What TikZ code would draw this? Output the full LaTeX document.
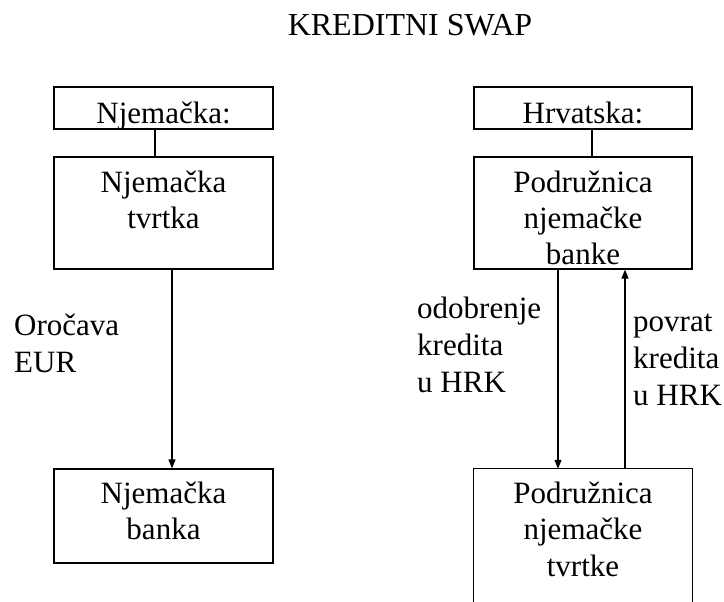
\documentclass[tikz,border=0pt]{standalone}
\usepackage{fontspec}
\setmainfont{Liberation Serif}
\usetikzlibrary{arrows.meta}
\newcommand\mlines[1]{\begin{tabular}[t]{@{}c@{}}#1\end{tabular}}
\newcommand\llines[1]{\begin{tabular}[t]{@{}l@{}}#1\end{tabular}}
\tikzset{
  box/.style={draw=black, line width=1.2pt, inner sep=0pt, minimum width=219pt},
  openbox/.style={draw=none, inner sep=0pt, minimum width=218pt},
  txt/.style={inner sep=0pt, anchor=base, font=\fontsize{31}{36.5}\selectfont},
  ltxt/.style={inner sep=0pt, anchor=base west, font=\fontsize{31}{37}\selectfont},
  conn/.style={line width=1.2pt, draw=black},
  flow/.style={line width=1.2pt, draw=black, -{Triangle[length=9pt,width=7pt]}}
}
\begin{document}
\begin{tikzpicture}[x=1pt,y=-1pt]
\useasboundingbox (0,0) rectangle (724,602);
% title
\node[txt, font=\fontsize{32}{37}\selectfont] (title) at (410,36) {KREDITNI SWAP};
% left column boxes
\node[box, minimum height=42pt] (lb1) at (163.5,108) {};
\node[box, minimum height=112pt] (lb2) at (163.5,213) {};
\node[box, minimum height=94pt] (lb3) at (163.5,516) {};
% right column boxes
\node[box, minimum width=218pt, minimum height=42pt] (rb1) at (583,108) {};
\node[box, minimum width=218pt, minimum height=112pt] (rb2) at (583,213) {};
\node[openbox, minimum height=133pt] (rb3) at (583,535.5) {};
\draw[conn] (rb3.south west) -- (rb3.north west) -- (rb3.north east) -- (rb3.south east);
% texts in boxes
\node[txt] (lt1) at (163.5,124) {Njemačka:};
\node[txt] (rt1) at (583,124) {Hrvatska:};
\node[txt] (lt2) at (163.5,192) {\mlines{Njemačka\\tvrtka}};
\node[txt] (rt2) at (583,192) {\mlines{Podružnica\\njemačke\\banke}};
\node[txt] (lt3) at (163.5,503) {\mlines{Njemačka\\banka}};
\node[txt] (rt3) at (583,503) {\mlines{Podružnica\\njemačke\\tvrtke}};
% side labels
\node[ltxt] (la) at (14,335) {\llines{Oročava\\EUR}};
\node[ltxt] (ra) at (417,318) {\llines{odobrenje\\kredita\\u HRK}};
\node[ltxt] (rb) at (633,331) {\llines{povrat\\kredita\\u HRK}};
% connector x positions
\coordinate (cl) at (155,0);
\coordinate (cr) at (592,0);
\coordinate (al) at (172,0);
\coordinate (ad) at (558,0);
\coordinate (au) at (625,0);
% connectors
\draw[conn] (lb1.south -| cl) -- (lb2.north -| cl);
\draw[conn] (rb1.south -| cr) -- (rb2.north -| cr);
\draw[flow] (lb2.south -| al) -- (lb3.north -| al);
\draw[flow] (rb2.south -| ad) -- (rb3.north -| ad);
\draw[flow] (rb3.north -| au) -- (rb2.south -| au);
\end{tikzpicture}
\end{document}
